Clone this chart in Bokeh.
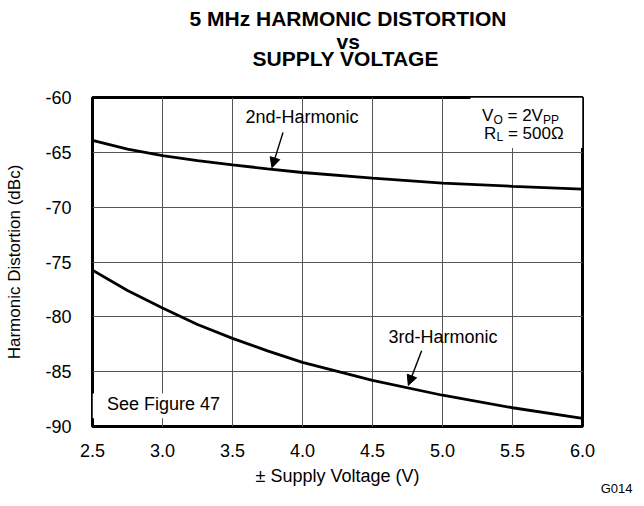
from bokeh.plotting import figure
from bokeh.models import Range1d, FixedTicker, Label, Arrow, NormalHead, Title
from bokeh.embed import file_html
from bokeh.resources import INLINE

# ---- data ----
supply_v = [2.5, 2.75, 3.0, 3.25, 3.5, 3.75, 4.0, 4.5, 5.0, 5.5, 6.0]
hd2_dbc = [-63.9, -64.7, -65.3, -65.75, -66.15, -66.5, -66.84, -67.35, -67.8, -68.1, -68.35]
hd3_dbc = [-75.75, -77.6, -79.2, -80.7, -81.96, -83.1, -84.15, -85.8, -87.15, -88.29, -89.25]

x_ticks = [2.5, 3.0, 3.5, 4.0, 4.5, 5.0, 5.5, 6.0]
x_tick_labels = ["2.5", "3.0", "3.5", "4.0", "4.5", "5.0", "5.5", "6.0"]
y_ticks = [-90, -85, -80, -75, -70, -65, -60]
y_tick_labels = ["-90", "-85", "-80", "-75", "-70", "-65", "-60"]

title_lines = ["5 MHz HARMONIC DISTORTION", "vs", "SUPPLY VOLTAGE"]
title_offsets = [97, 244, 160]   # left offsets so each line is centred like the reference
title_standoffs = [5.5, -10, -6]

FONT = "Liberation Sans"

p = figure(width=636, height=498,
           x_range=Range1d(2.5, 6.0), y_range=Range1d(-90, -60),
           output_backend="svg", toolbar_location=None,
           min_border_left=92, min_border_right=54,
           min_border_top=97, min_border_bottom=72,
           background_fill_color="white", border_fill_color="white")

# title lines: added nearest-to-frame first
p.add_layout(Title(text=" ", text_font_size="10px", standoff=17.5), "above")  # spacer
for i in [2, 1, 0]:
    p.add_layout(Title(text=title_lines[i], align="left", offset=title_offsets[i],
                       text_font=FONT, text_font_size="21px",
                       text_font_style="bold", text_color="black",
                       standoff=title_standoffs[i]), "above")

p.add_layout(Title(text="G014", align="right", offset=-50, vertical_align="middle",
                   text_font=FONT, text_font_size="13px",
                   text_font_style="normal", text_color="black",
                   standoff=-26), "below")

# frame
p.outline_line_color = "black"
p.outline_line_width = 3

# grid
p.xgrid.ticker = FixedTicker(ticks=x_ticks)
p.ygrid.ticker = FixedTicker(ticks=y_ticks)
for g in (p.xgrid, p.ygrid):
    g.grid_line_color = "#555555"
    g.grid_line_width = 1

# axes
p.xaxis.ticker = FixedTicker(ticks=x_ticks)
p.yaxis.ticker = FixedTicker(ticks=y_ticks)
p.xaxis.major_label_overrides = {v: s for v, s in zip(x_ticks, x_tick_labels)}
p.yaxis.major_label_overrides = {v: s for v, s in zip(y_ticks, y_tick_labels)}
for ax in (p.xaxis, p.yaxis):
    ax.axis_line_color = None
    ax.major_tick_line_color = None
    ax.minor_tick_line_color = None
    ax.major_label_text_font = FONT
    ax.major_label_text_font_size = "18px"
    ax.major_label_text_color = "black"
    ax.axis_label_text_font = FONT
    ax.axis_label_text_font_style = "normal"
    ax.axis_label_text_color = "black"
p.xaxis.axis_label = "\u00b1 Supply Voltage (V)"
p.xaxis.axis_label_text_font_size = "18px"
p.xaxis.major_label_standoff = 11
p.xaxis.axis_label_standoff = 6
p.yaxis.axis_label = "Harmonic Distortion (dBc)"
p.yaxis.axis_label_text_font_size = "17px"
p.yaxis.major_label_standoff = 15
p.yaxis.axis_label_standoff = 18

# white backgrounds behind boxed notes
p.quad(left=[5.2], right=[6.0], bottom=[-64.6], top=[-60.0], color="white", line_color=None)
p.quad(left=[2.5], right=[3.4], bottom=[-89.25], top=[-87.0], color="white", line_color=None)

# curves
p.line(supply_v, hd2_dbc, line_color="black", line_width=2.8)
p.line(supply_v, hd3_dbc, line_color="black", line_width=2.8)

def lab(x, y, text, size="18px", align="left", xo=0, yo=0):
    p.add_layout(Label(x=x, y=y, text=text, text_font=FONT, text_font_size=size,
                       text_align=align, text_baseline="middle", text_color="black",
                       x_offset=xo, y_offset=yo))

lab(3.996, -61.74, "2nd-Harmonic", align="center")
lab(5.004, -81.81, "3rd-Harmonic", align="center")
lab(2.604, -87.93, "See Figure 47")

# V_O = 2V_PP
lab(5.282, -61.65, "V", size="17px", xo=0)
lab(5.282, -61.65, "O", size="12px", xo=11.5, yo=-4)
lab(5.282, -61.65, "= 2V", size="17px", xo=25.5)
lab(5.282, -61.65, "PP", size="12px", xo=61, yo=-4)
# R_L = 500Ω
lab(5.296, -63.27, "R", size="17px", xo=0)
lab(5.296, -63.27, "L", size="12px", xo=12.5, yo=-4)
lab(5.296, -63.27, "= 500\u03a9", size="17px", xo=24)

# arrows
p.add_layout(Arrow(x_start=3.861, y_start=-63.18, x_end=3.782, y_end=-66.4,
                   line_color="black", line_width=1.4,
                   end=NormalHead(size=10, fill_color="black", line_color="black")))
p.add_layout(Arrow(x_start=4.851, y_start=-83.1, x_end=4.756, y_end=-86.25,
                   line_color="black", line_width=1.4,
                   end=NormalHead(size=10, fill_color="black", line_color="black")))

open("out.html", "w").write(file_html(p, INLINE))
